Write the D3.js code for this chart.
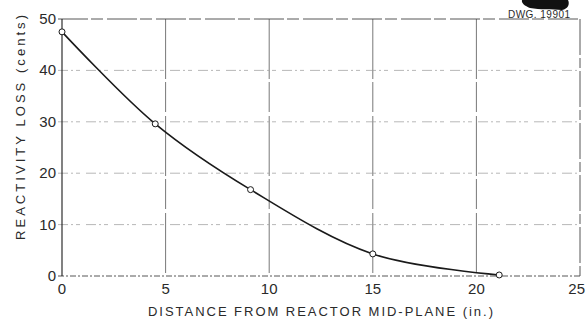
<!DOCTYPE html>
<html>
<head>
<meta charset="utf-8">
<script src="https://cdn.jsdelivr.net/npm/d3@7"></script>
<style>
  html, body { margin: 0; padding: 0; background: #fff; }
  svg { display: block; }
  text { font-family: "Liberation Sans", Arial, sans-serif; fill: #2a2a2a; }
</style>
</head>
<body>
<svg id="chart" width="586" height="322"></svg>
<script>
// Reactivity loss vs. distance from reactor mid-plane
const distance = [0, 4.5, 9.1, 15, 21.1];          // inches
const reactivityLoss = [47.5, 29.6, 16.8, 4.3, 0.2]; // cents
const xTicks = [0, 5, 10, 15, 20, 25];
const yTicks = [0, 10, 20, 30, 40, 50];
const xTitle = "DISTANCE FROM REACTOR MID-PLANE (in.)";
const yTitle = "REACTIVITY LOSS (cents)";
const drawingNo = "DWG. 19901";

const svg = d3.select("#chart");
const margin = { left: 62, right: 6, top: 19, bottom: 46 };
const W = 586, H = 322;

const x = d3.scaleLinear().domain([0, 25]).range([margin.left, W - margin.right]);
const y = d3.scaleLinear().domain([0, 50]).range([H - margin.bottom, margin.top]);

const ink = "#1a1a1a";

// Grid: vertical lines
svg.append("g").selectAll("line")
  .data(xTicks.filter(d => d > 0 && d < 25))
  .join("line")
  .attr("x1", d => x(d)).attr("x2", d => x(d))
  .attr("y1", y(50)).attr("y2", y(0))
  .attr("stroke", "#555").attr("stroke-width", 0.8)
  .attr("stroke-dasharray", "60,3,30,4");

// Grid: horizontal lines
svg.append("g").selectAll("line")
  .data(yTicks.filter(d => d > 0 && d < 50))
  .join("line")
  .attr("x1", x(0) - 4).attr("x2", x(25))
  .attr("y1", d => y(d)).attr("y2", d => y(d))
  .attr("stroke", "#999").attr("stroke-width", 0.7)
  .attr("stroke-dasharray", "10,3,2,3,4,6");

// Frame: top and right
svg.append("line")
  .attr("x1", x(0) - 4).attr("x2", x(25)).attr("y1", y(50)).attr("y2", y(50))
  .attr("stroke", "#444").attr("stroke-width", 0.9).attr("stroke-dasharray", "30,3,12,4");
svg.append("line")
  .attr("x1", x(25)).attr("x2", x(25)).attr("y1", y(50)).attr("y2", y(0))
  .attr("stroke", "#444").attr("stroke-width", 0.9).attr("stroke-dasharray", "36,3,10,3");

// Bottom axis line
svg.append("line")
  .attr("x1", x(0) - 4).attr("x2", x(25)).attr("y1", y(0)).attr("y2", y(0))
  .attr("stroke", "#444").attr("stroke-width", 0.9).attr("stroke-dasharray", "6,2,2,2");

// Left axis line
svg.append("line")
  .attr("x1", x(0)).attr("x2", x(0)).attr("y1", y(50)).attr("y2", y(0))
  .attr("stroke", ink).attr("stroke-width", 1.1);

// Tick labels
svg.append("g").selectAll("text")
  .data(xTicks).join("text")
  .attr("x", d => d === 25 ? W - 1 : x(d)).attr("y", y(0) + 18)
  .attr("text-anchor", d => d === 25 ? "end" : "middle")
  .attr("font-size", 15)
  .text(d => d);

svg.append("g").selectAll("text")
  .data(yTicks).join("text")
  .attr("x", x(0) - 6).attr("y", d => y(d) + 5)
  .attr("text-anchor", "end")
  .attr("font-size", 15)
  .text(d => d);

// Axis titles
svg.append("text")
  .attr("x", 148).attr("y", 316)
  .attr("font-size", 13)
  .attr("textLength", 345).attr("lengthAdjust", "spacing")
  .text(xTitle);

svg.append("text")
  .attr("transform", "translate(25,240) rotate(-90)")
  .attr("font-size", 13)
  .attr("textLength", 225).attr("lengthAdjust", "spacing")
  .text(yTitle);

// Drawing number with ink smear above it
svg.append("path")
  .attr("d", "M522,0 L568,0 C570,4 568,9 562,10 C552,9 540,10 530,8 C525,6 521,3 522,0 Z")
  .attr("fill", "#111");
svg.append("text")
  .attr("x", 508).attr("y", 18)
  .attr("font-size", 10)
  .attr("textLength", 62).attr("lengthAdjust", "spacing")
  .text(drawingNo);

// Curve through the measured points
const pts = distance.map((d, i) => [d, reactivityLoss[i]]);
const line = d3.line()
  .x(d => x(d[0])).y(d => y(d[1]))
  .curve(d3.curveCatmullRom.alpha(0.5));
svg.append("path")
  .datum(pts)
  .attr("d", line)
  .attr("fill", "none")
  .attr("stroke", ink)
  .attr("stroke-width", 1.6);

// Measured points as open circles
svg.append("g").selectAll("circle")
  .data(pts).join("circle")
  .attr("cx", d => x(d[0])).attr("cy", d => y(d[1]))
  .attr("r", 3)
  .attr("fill", "#fff")
  .attr("stroke", ink)
  .attr("stroke-width", 1);
</script>
</body>
</html>
